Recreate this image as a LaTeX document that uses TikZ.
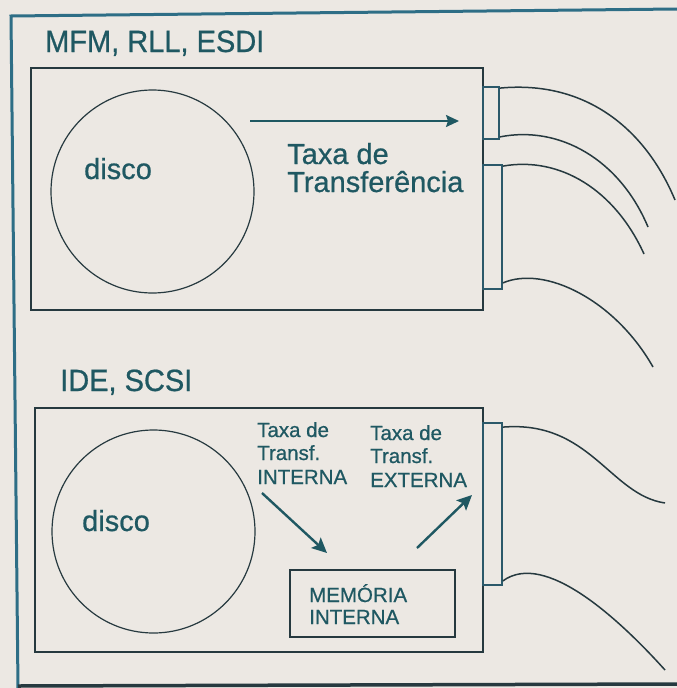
\documentclass[tikz,border=0pt]{standalone}
\usepackage{fontspec}
\setmainfont{Liberation Sans}
\newfontfamily\inkfont[FakeBold=0.7]{Liberation Sans}
\usetikzlibrary{arrows.meta}
\definecolor{bgc}{HTML}{ECE8E3}
\definecolor{inkc}{HTML}{1F5862}
\definecolor{boxc}{HTML}{26393F}
\definecolor{framec}{HTML}{2E6E86}
\begin{document}
\begin{tikzpicture}[x=1pt,y=-1pt,
  lbl/.style={anchor=base west, inner sep=0pt, text=inkc},
  big/.style={lbl, font=\inkfont\fontsize{29}{28}\selectfont},
  small/.style={lbl, font=\inkfont\fontsize{20.5}{23.5}\selectfont},
  drivebox/.style={draw=boxc, line width=1.8pt, rectangle, inner sep=0pt},
  platter/.style={draw=boxc, line width=1.2pt, circle, inner sep=0pt, minimum size=203pt},
  plug/.style={draw=framec!60!boxc, line width=1.8pt, rectangle, inner sep=0pt},
  cable/.style={draw=boxc, line width=1.5pt},
  flow/.style={draw=inkc, line width=2.4pt, -{Stealth[length=15pt,width=14pt,inset=3pt]}}]

\fill[bgc] (0,0) rectangle (677,688);
\useasboundingbox (0,0) rectangle (677,688);

% outer frame
\coordinate (ftl) at (11,16);
\coordinate (ftr) at (677,9);
\coordinate (fbl) at (18,688);
\coordinate (fbm) at (18,686);
\coordinate (fbr) at (677,684);
\draw[framec, line width=3pt] (ftr) -- (ftl) -- (fbl);
\draw[boxc, line width=3.5pt] (fbm) -- (fbr);

% ---------- upper drive ----------
\node[big] (t1) at (45,52) {\scalebox{1}[1.06]{MFM, RLL, ESDI}};
\node[drivebox, minimum width=452pt, minimum height=242pt] (d1) at (257,189) {};
\node[platter] (c1) at (152.5,191.5) {};
\node[big] (disco1) at (84,179) {disco};
\node[big] (tx1) at (287,164) {Taxa de};
\node[big] (tx2) at (287,192) {Transferência};
\coordinate (a0) at (250,121);
\coordinate (a1) at (459,121);
\draw[flow, line width=1.8pt, -{Stealth[length=13pt,width=12pt,inset=2pt]}] (a0) -- (a1);

\node[plug, minimum width=16pt, minimum height=52pt] (p1) at (491,113) {};
\node[plug, minimum width=19pt, minimum height=124pt] (p2) at (492.5,227) {};

\coordinate (e1) at (675,200);
\coordinate (e2) at (648,227);
\coordinate (e3) at (644,254);
\coordinate (e4) at (653,367);
\draw[cable] ([yshift=-2pt]p1.north east) .. controls (585,80) and (645,128) .. (e1);
\draw[cable] ([yshift=3pt]p1.south east) .. controls (560,125) and (620,160) .. (e2);
\draw[cable] ([yshift=-2pt]p2.north east) .. controls (560,156) and (615,190) .. (e3);
\draw[cable] ([yshift=7pt]p2.south east) .. controls (545,265) and (615,300) .. (e4);

% ---------- lower drive ----------
\node[big] (t2) at (60,391) {\scalebox{1}[1.06]{IDE, SCSI}};
\node[drivebox, minimum width=448pt, minimum height=244pt] (d2) at (259,530) {};
\node[platter] (c2) at (153.5,531.5) {};
\node[big] (disco2) at (82,531) {disco};

\node[small] (i1) at (257,437) {Taxa de};
\node[small] (i2) at (257,460) {Transf.};
\node[small] (i3) at (257,484) {INTERNA};
\node[small] (x1) at (370,440) {Taxa de};
\node[small] (x2) at (370,463) {Transf.};
\node[small] (x3) at (370,487) {EXTERNA};

\node[drivebox, line width=1.5pt, minimum width=165pt, minimum height=67pt] (mem) at (372.5,603.5) {};
\node[small] (m1) at (309,602) {MEMÓRIA};
\node[small] (m2) at (309,624) {INTERNA};

\coordinate (b0) at (262,493);
\coordinate (b1) at (327,553);
\coordinate (b2) at (417,548);
\coordinate (b3) at (472,495);
\draw[flow] (b0) -- (b1);
\draw[flow] (b2) -- (b3);

\node[plug, minimum width=19pt, minimum height=162pt] (p3) at (492.5,504) {};
\coordinate (e5) at (665,503);
\coordinate (e6) at (665,670);
\draw[cable] ([yshift=-5pt]p3.north east) .. controls (590,420) and (610,495) .. (e5);
\draw[cable] ([yshift=5pt]p3.south east) .. controls (545,550) and (620,620) .. (e6);
\end{tikzpicture}
\end{document}
